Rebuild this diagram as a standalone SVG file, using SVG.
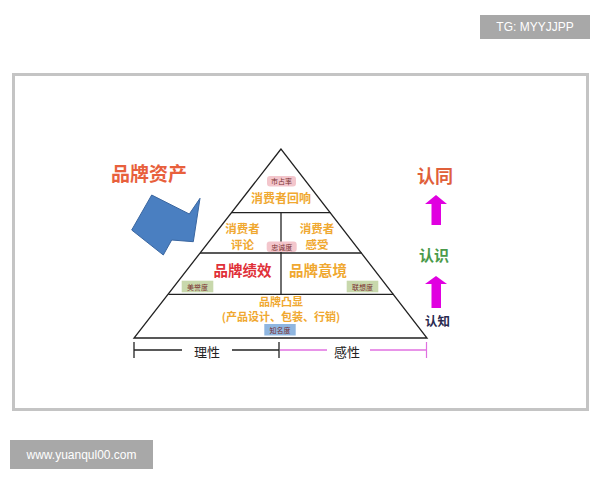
<svg xmlns="http://www.w3.org/2000/svg" width="600" height="480" viewBox="0 0 600 480">
<style>
.cjk{font-family:"Noto Sans CJK SC","Noto Sans",sans-serif;font-weight:bold;text-anchor:middle}
.gold{fill:#f0a830}
.badge-t{font-family:"Noto Sans CJK SC",serif;font-size:7px;text-anchor:middle;fill:#7a3030}
.ln{stroke:#222;stroke-width:1.3;fill:none}
.wm{font-family:"Liberation Sans",Arial,sans-serif;font-size:12px;fill:#fff;text-anchor:middle}
.scale{font-family:"Noto Sans CJK SC","Noto Sans",sans-serif;font-size:13px;text-anchor:middle;fill:#222}
</style>
<defs>
<marker id="tick" markerWidth="2" markerHeight="16" refX="1" refY="8" orient="auto" markerUnits="userSpaceOnUse"><line x1="1" y1="0" x2="1" y2="16" stroke="#222" stroke-width="1.3"/></marker>
</defs>
<rect width="600" height="480" fill="#fff"/>
<g id="watermark-top"><rect x="480" y="15" width="110" height="24" fill="#a8a8a8"/><text class="wm" x="535" y="31">TG: MYYJJPP</text></g>
<g id="frame"><rect x="13.5" y="74.5" width="574" height="335" fill="#fff" stroke="#c4c4c4" stroke-width="3"/></g>
<g id="watermark-bottom"><rect x="10" y="440" width="143" height="29" fill="#a8a8a8"/><text class="wm" x="81.5" y="459">www.yuanqul00.com</text></g>

<g id="title"><text class="cjk" x="149" y="181" font-size="19" fill="#e8603c">品牌资产</text></g>
<g id="blue-arrow"><polygon points="151.7,195 189.3,214 200,198.3 193.3,241.7 171.7,240 163.3,255 131.7,230" fill="#4a7fc1" stroke="#3a66a0" stroke-width="1"/></g>

<g id="pyramid">
<polygon points="281,149 134,338 427,338" fill="#fff" stroke="#222" stroke-width="1.3"/>
<line class="ln" x1="231.6" y1="212.7" x2="330.4" y2="212.7"/>
<line class="ln" x1="200" y1="253" x2="361.6" y2="253"/>
<line class="ln" x1="168.4" y1="294.3" x2="393.6" y2="294.3"/>
<line class="ln" x1="281" y1="212.7" x2="281" y2="294.3"/>
</g>

<g id="layer1">
<rect x="267" y="176" width="29" height="10.5" rx="3" fill="#f3c6cc"/><text class="badge-t" x="281.5" y="184">市占率</text>
<text class="cjk gold" x="281" y="203" font-size="12">消费者回响</text>
</g>
<g id="layer2-left"><text class="cjk gold" x="242.5" y="233" font-size="11.5">消费者</text><text class="cjk gold" x="242.5" y="248.5" font-size="11.5">评论</text></g>
<g id="layer2-right"><text class="cjk gold" x="317" y="233" font-size="11.5">消费者</text><text class="cjk gold" x="317" y="248.5" font-size="11.5">感受</text></g>
<g id="badge-loyalty"><rect x="266.7" y="241.5" width="30" height="10.5" rx="3" fill="#f3c6cc"/><text class="badge-t" x="281.7" y="249.5">忠诚度</text></g>
<g id="layer3-left"><text class="cjk" x="242.5" y="276" font-size="14.5" fill="#e03038">品牌绩效</text>
<rect x="181.7" y="280.7" width="31.6" height="11.6" fill="#c8d8ac"/><text class="badge-t" x="197.5" y="289.5" fill="#405030">美誉度</text></g>
<g id="layer3-right"><text class="cjk" x="318" y="276" font-size="14.5" fill="#f0a830">品牌意境</text>
<rect x="346.7" y="280.7" width="31.6" height="11.6" fill="#c8d8ac"/><text class="badge-t" x="362.5" y="289.5" fill="#405030">联想度</text></g>
<g id="layer4"><text class="cjk gold" x="281" y="306" font-size="11">品牌凸显</text>
<text class="cjk gold" x="281" y="320.5" font-size="11">(产品设计、包装、行销)</text>
<rect x="264.3" y="324" width="31.4" height="11.5" fill="#8fb6e0"/><text class="badge-t" x="280" y="332.5" fill="#304060">知名度</text></g>

<g id="connectors">
<line x1="134" y1="350" x2="182" y2="350" stroke="#222" stroke-width="1.3" marker-start="url(#tick)"/>
<line x1="232" y1="350" x2="279" y2="350" stroke="#222" stroke-width="1.3" marker-end="url(#tick)"/>
<line x1="280" y1="350" x2="327" y2="350" stroke="#e070e0" stroke-width="1.3"/>
<line x1="370" y1="350" x2="426.5" y2="350" stroke="#e070e0" stroke-width="1.3"/>
<line x1="426.5" y1="342" x2="426.5" y2="358" stroke="#e070e0" stroke-width="1.2"/>
</g>
<g id="scale-labels"><text class="scale" x="207" y="357">理性</text>
<text class="scale" x="347" y="357">感性</text></g>

<g id="right-labels">
<text class="cjk" x="435" y="183" font-size="18" fill="#e0603a">认同</text>
<polygon points="436,195 447,204 441,204 441,225 431.5,225 431.5,204 425,204" fill="#e000e0"/>
<text class="cjk" x="434" y="261" font-size="15" fill="#4a9a4a">认识</text>
<polygon points="436,276 447,284 441,284 441,308 431.5,308 431.5,284 425,284" fill="#e000e0"/>
<text class="cjk" x="437.5" y="326" font-size="12.5" fill="#2a2a50">认知</text>
</g>
</svg>
